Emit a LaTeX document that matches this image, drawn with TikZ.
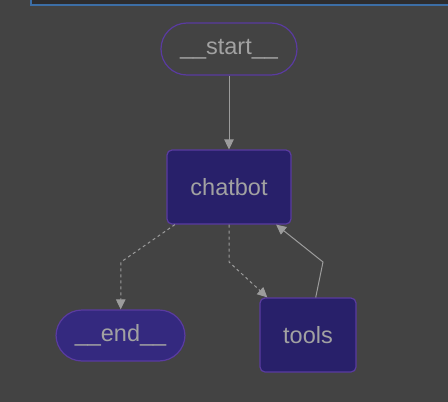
\documentclass[tikz,border=0pt]{standalone}
\usepackage{fontspec}
\setmainfont{Liberation Sans}
\usetikzlibrary{arrows.meta}
\definecolor{bggray}{HTML}{434343}
\definecolor{panelfill}{HTML}{2D2D2F}
\definecolor{panelline}{HTML}{3C6EA6}
\definecolor{nodeline}{HTML}{5A3BA0}
\definecolor{stepfill}{HTML}{28206A}
\definecolor{endfill}{HTML}{34297F}
\definecolor{labelgray}{HTML}{A2A2A2}
\definecolor{edgegray}{HTML}{9C9C9C}
\tikzset{
  graphnode/.style={draw=nodeline, line width=1.2pt, text=labelgray,
    font=\fontsize{23.5}{27}\selectfont},
  terminal/.style={graphnode, rounded corners=26pt, minimum height=52pt},
  stepbox/.style={graphnode, fill=stepfill, rounded corners=5pt},
  edge/.style={draw=edgegray, line width=1pt,
    -{Triangle[width=9.5pt,length=10pt]}},
  cond/.style={edge, dash pattern=on 3pt off 3pt}
}
\begin{document}
\begin{tikzpicture}[x=1pt,y=-1pt]
\fill[bggray] (0,0) rectangle (448,402);
\useasboundingbox (0,0) rectangle (448,402);
% top panel, cut off by the page edge
\draw[panelline, fill=panelfill, line width=1.5pt] (31,-10) rectangle (470,5);

\node[terminal, minimum width=136pt] (start) at (229,49) {\_\_start\_\_};
\node[stepbox, minimum width=124pt, minimum height=74pt] (chatbot) at (229,187) {chatbot};
\node[terminal, fill=endfill, minimum width=129pt, minimum height=51pt] (end) at (120.5,335.5) {\_\_end\_\_};
\node[stepbox, minimum width=96pt, minimum height=74pt] (tools) at (308,335) {tools};

\coordinate (toend) at (121,262);
\coordinate (totools) at (229,262);
\coordinate (back) at (323,262);

\draw[edge] (start) -- (chatbot);
\draw[cond] (chatbot) -- (toend) -- (end);
\draw[cond] (chatbot) -- (totools) -- (tools);
\draw[edge] (tools) -- (back) -- (chatbot);
\end{tikzpicture}
\end{document}
